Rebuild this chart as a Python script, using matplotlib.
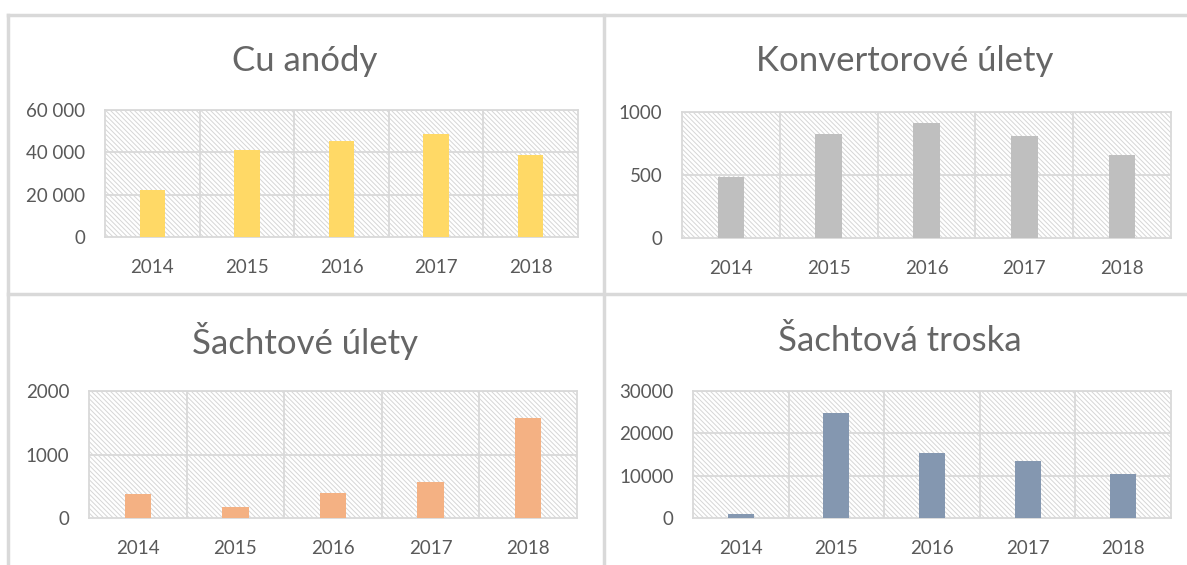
import numpy as np
import matplotlib.pyplot as plt
from matplotlib.patches import Rectangle
from matplotlib.lines import Line2D
from matplotlib.ticker import FuncFormatter

plt.rcParams['font.family'] = ['Lato', 'DejaVu Sans']
plt.rcParams['hatch.linewidth'] = 0.7

years = ['2014', '2015', '2016', '2017', '2018']
cu_anody = [22100, 41000, 45300, 48600, 38700]
konvertorove_ulety = [484, 823, 915, 807, 659]
sachtove_ulety = [371, 172, 392, 569, 1572]
sachtova_troska = [940, 24750, 15430, 13550, 10500]

titles = ['Cu anódy', 'Konvertorové úlety', 'Šachtové úlety', 'Šachtová troska']
series = [cu_anody, konvertorove_ulety, sachtove_ulety, sachtova_troska]
colors = ['#FFD966', '#BFBFBF', '#F4B183', '#8497B0']
ymax = [60000, 1000, 2000, 30000]
ystep = [20000, 500, 1000, 10000]
space_sep = [True, False, False, False]

W, H = 1187, 565
# plot areas in pixels: left, top, right, bottom
areas = [(105, 110, 578, 237), (682, 112, 1171, 238),
         (89, 391, 577, 518), (693, 391, 1171, 518)]
title_pos = [(305, 61), (905, 61), (305, 341), (900, 341)]

txt = '#595959'
grid = '#D9D9D9'

fig = plt.figure(figsize=(W / 100, H / 100), dpi=100)

for i in range(4):
    l, t, r, b = areas[i]
    ax = fig.add_axes([l / W, 1 - b / H, (r - l) / W, (b - t) / H])
    ax.add_patch(Rectangle((0, 0), 1, 1, transform=ax.transAxes, facecolor='white',
                           edgecolor='#D6D6D6', hatch='\\' * 7, linewidth=0, zorder=0))
    x = np.arange(len(years))
    ax.bar(x, series[i], width=0.27, color=colors[i], zorder=3)
    ax.set_xlim(-0.5, 4.5)
    ax.set_ylim(0, ymax[i])
    ax.set_yticks(np.arange(0, ymax[i] + 1, ystep[i]))
    ax.set_xticks(x)
    ax.set_xticklabels(years)
    if space_sep[i]:
        ax.yaxis.set_major_formatter(FuncFormatter(lambda v, p: f'{int(v):,}'.replace(',', ' ')))
    for v in np.arange(ystep[i], ymax[i] + 1, ystep[i]):
        ax.axhline(v, color=grid, lw=1.3, zorder=1)
    for v in np.arange(0.5, 4.5, 1):
        ax.axvline(v, color=grid, lw=1.3, zorder=1)
    for s in ax.spines.values():
        s.set_color(grid)
        s.set_linewidth(1.3)
    ax.tick_params(length=0, labelsize=13.5, colors=txt)
    ax.tick_params(axis='x', pad=16)
    ax.tick_params(axis='y', pad=14)
    tx, ty = title_pos[i]
    fig.text(tx / W, 1 - ty / H, titles[i], ha='center', va='center',
             fontsize=25, color='#666666')

# chart frames
fc = '#D9D9D9'
fig.add_artist(Line2D([8 / W, 1], [1 - 15 / H] * 2, color=fc, lw=2.5))
fig.add_artist(Line2D([8 / W, 1], [1 - 294 / H] * 2, color=fc, lw=2.5))
fig.add_artist(Line2D([8 / W] * 2, [0, 1 - 15 / H], color=fc, lw=2.5))
fig.add_artist(Line2D([604 / W] * 2, [0, 1 - 15 / H], color=fc, lw=2.5))

fig.savefig('out.png', dpi=100)
